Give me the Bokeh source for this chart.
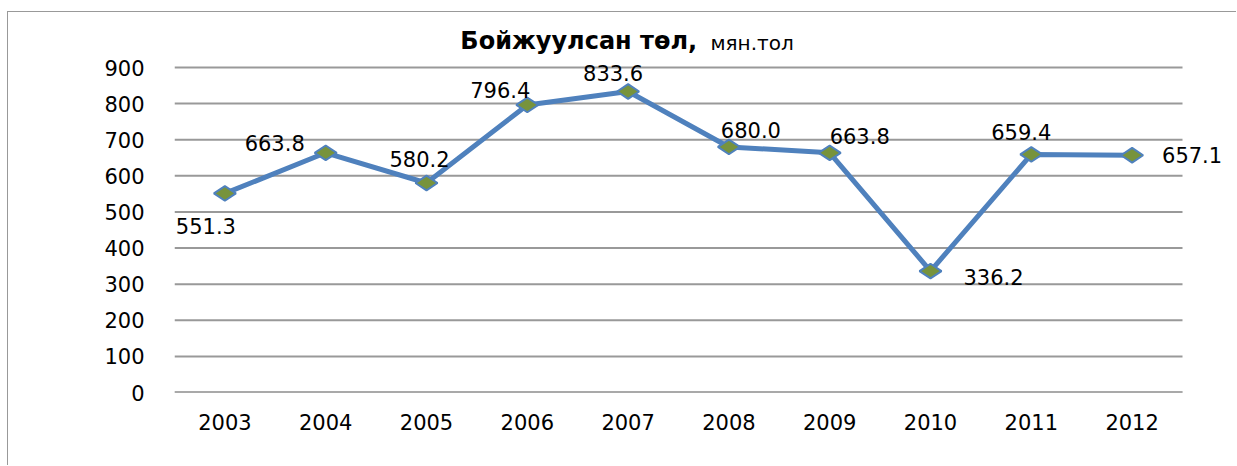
from bokeh.plotting import figure
from bokeh.models import ColumnDataSource, Range1d, FixedTicker
from bokeh.embed import file_html
from bokeh.resources import INLINE
from bokeh.core.properties import value

# ---- data ----
years = ["2003", "2004", "2005", "2006", "2007", "2008", "2009", "2010", "2011", "2012"]
values = [551.3, 663.8, 580.2, 796.4, 833.6, 680.0, 663.8, 336.2, 659.4, 657.1]
value_labels = ["551.3", "663.8", "580.2", "796.4", "833.6", "680.0", "663.8", "336.2", "659.4", "657.1"]
y_ticks = [0, 100, 200, 300, 400, 500, 600, 700, 800, 900]
title_bold = "Бойжуулсан  төл,"
title_unit = "мян.тол"

# label placement (screen pixel offsets, style only)
label_dx = [-19, -51, -7, -27, -15, 22, 30, 63, -10, 60]
label_dy = [33, -10, -24, -15, -18, -17, -17, 6, -22, 0]

FONT = "DejaVu Sans"
LINE_BLUE = "#4F81BD"
OLIVE = "#77933C"
GRID = "#999999"
FS = "21px"

# ---- layout (pixels) ----
W, H = 1229, 454
LEFT = 166            # frame left inside canvas
BOTTOM = 74           # space below zero line
TOP_900 = 55          # y of the 900 gridline from canvas top
CAT_W = 100.8         # width of one category

idx = list(range(len(years)))
x_lo = -0.5
x_hi = x_lo + (W - LEFT) / CAT_W
y_max = y_ticks[-1]
px_per_unit = (H - BOTTOM - TOP_900) / y_max
y_hi = (H - BOTTOM) / px_per_unit

src = ColumnDataSource(dict(x=idx, y=values, t=value_labels, dx=label_dx, dy=label_dy))

p = figure(width=W, height=H,
           x_range=Range1d(x_lo, x_hi), y_range=Range1d(0, y_hi),
           output_backend="svg", toolbar_location=None,
           min_border_left=LEFT, min_border_right=0,
           min_border_top=0, min_border_bottom=BOTTOM)
p.styles = {"margin-left": "7px", "margin-top": "11px",
            "border-left": "1px solid #999999", "border-top": "1px solid #999999"}

p.outline_line_color = None
p.xgrid.grid_line_color = None
p.ygrid.grid_line_color = None

# horizontal gridlines over the plot area only
n = len(y_ticks)
p.segment(x0=[x_lo] * n, x1=[len(years) - 0.5] * n, y0=y_ticks, y1=y_ticks,
          line_color=GRID, line_width=2)
p.segment(x0=[x_lo], x1=[len(years) - 0.5], y0=[0], y1=[0],
          line_color="#868686", line_width=2)

p.yaxis.ticker = FixedTicker(ticks=y_ticks)
p.yaxis.axis_line_color = None
p.yaxis.major_tick_line_color = None
p.yaxis.minor_tick_line_color = None
p.yaxis.major_label_standoff = 24
p.yaxis.major_label_text_font = FONT
p.yaxis.major_label_text_font_size = FS
p.yaxis.major_label_text_color = "black"

p.xaxis.ticker = FixedTicker(ticks=idx)
p.xaxis.major_label_overrides = {i: y for i, y in zip(idx, years)}
p.xaxis.axis_line_color = None
p.xaxis.major_tick_line_color = None
p.xaxis.minor_tick_line_color = None
p.xaxis.major_label_standoff = 15
p.xaxis.major_label_text_font = FONT
p.xaxis.major_label_text_font_size = FS
p.xaxis.major_label_text_color = "black"

p.line("x", "y", source=src, line_color=LINE_BLUE, line_width=5)
p.scatter("x", "y", source=src, marker="diamond", size=22, angle=1.5708,
          fill_color=OLIVE, line_color=LINE_BLUE, line_width=2)
p.text("x", "y", text="t", source=src, x_offset="dx", y_offset="dy",
       text_align="center", text_baseline="middle",
       text_font=value(FONT), text_font_size=FS, text_color="black")

# title (bold part + unit in regular weight)
title_y = y_max + 27 / px_per_unit
p.text(x=[x_lo + 531 / CAT_W], y=[title_y], text=[title_bold],
       text_align="right", text_baseline="middle",
       text_font=value(FONT), text_font_size="24px", text_font_style="bold",
       text_color="black")
p.text(x=[x_lo + 536 / CAT_W], y=[title_y], text=[title_unit],
       text_align="left", text_baseline="middle", y_offset=2,
       text_font=value(FONT), text_font_size="20px", text_color="black")

open("out.html", "w").write(file_html(p, INLINE))
